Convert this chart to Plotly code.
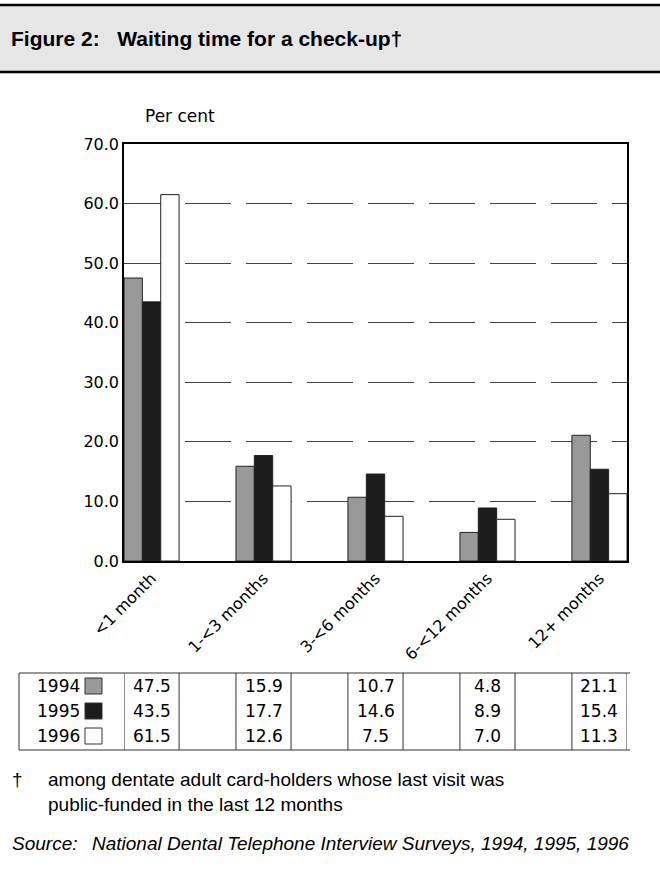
import plotly.graph_objects as go

# data
categories = ["<1 month", "1-<3 months", "3-<6 months", "6-<12 months", "12+ months"]
years = ["1994", "1995", "1996"]
values_1994 = [47.5, 15.9, 10.7, 4.8, 21.1]
values_1995 = [43.5, 17.7, 14.6, 8.9, 15.4]
values_1996 = [61.5, 12.6, 7.5, 7.0, 11.3]
y_ticks = [0, 10, 20, 30, 40, 50, 60, 70]

series = [values_1994, values_1995, values_1996]
fills = ["#999999", "#1c1c1c", "#ffffff"]

W, H = 660, 877
L, R, T, B = 124, 627, 144, 561   # plot area in pixels
HALF = 0.246                       # half width of a bar group, in category units

TICK_FONT = "DejaVu Sans"
TEXT_FONT = "Liberation Sans, Arial, sans-serif"


def px_x(px):
    """pixel x -> paper x"""
    return (px - L) / (R - L)


def px_y(py):
    """pixel y -> paper y"""
    return (B - py) / (B - T)


fig = go.Figure()
for year, vals, col in zip(years, series, fills):
    fig.add_trace(go.Bar(
        x=categories, y=vals, name=year,
        marker=dict(color=col, line=dict(color="#222222", width=1)),
    ))

shapes = []
annotations = []

# header band
shapes.append(dict(type="rect", xref="paper", yref="paper",
                   x0=px_x(-5), x1=px_x(665), y0=px_y(72), y1=px_y(5),
                   fillcolor="#e6e6e6", line=dict(color="#000000", width=2.5),
                   layer="below"))
annotations.append(dict(xref="paper", yref="paper", x=px_x(9), y=px_y(38),
                        xanchor="left", yanchor="middle", showarrow=False,
                        text="<b>Figure 2:   Waiting time for a check-up†</b>",
                        font=dict(family=TEXT_FONT, size=21, color="#000000")))

annotations.append(dict(xref="paper", yref="paper", x=px_x(143), y=px_y(116),
                        xanchor="left", yanchor="middle", showarrow=False,
                        text="Per cent",
                        font=dict(family=TICK_FONT, size=17, color="#000000")))

# data table under the chart
tab_top, tab_bot = 673, 750
row_y = [686, 711, 736]
line = dict(color="#333333", width=1)
shapes.append(dict(type="line", xref="paper", yref="paper", x0=px_x(19), x1=px_x(630),
                   y0=px_y(tab_top), y1=px_y(tab_top), line=line))
shapes.append(dict(type="line", xref="paper", yref="paper", x0=px_x(19), x1=px_x(630),
                   y0=px_y(tab_bot), y1=px_y(tab_bot), line=line))
shapes.append(dict(type="line", xref="paper", yref="paper", x0=px_x(19), x1=px_x(19),
                   y0=px_y(tab_top), y1=px_y(tab_bot), line=line))
for i in range(len(categories)):
    for xb in (i - HALF, i + HALF):
        shapes.append(dict(type="line", xref="x", yref="paper", x0=xb, x1=xb,
                           y0=px_y(tab_top), y1=px_y(tab_bot), line=line))

for r, (year, vals, col) in enumerate(zip(years, series, fills)):
    yc = row_y[r]
    annotations.append(dict(xref="paper", yref="paper", x=px_x(82), y=px_y(yc),
                            xanchor="right", yanchor="middle", showarrow=False,
                            text=year, font=dict(family=TICK_FONT, size=17, color="#000000")))
    shapes.append(dict(type="rect", xref="paper", yref="paper",
                       x0=px_x(85), x1=px_x(102), y0=px_y(yc + 8), y1=px_y(yc - 8),
                       fillcolor=col, line=dict(color="#333333", width=1)))
    for i, v in enumerate(vals):
        annotations.append(dict(xref="x", yref="paper", x=i, y=px_y(yc),
                                xanchor="center", yanchor="middle", showarrow=False,
                                text=f"{v:.1f}",
                                font=dict(family=TICK_FONT, size=17, color="#000000")))

# footnotes
foot = dict(family=TEXT_FONT, size=19, color="#000000")
annotations.append(dict(xref="paper", yref="paper", x=px_x(10), y=px_y(780),
                        xanchor="left", yanchor="middle", showarrow=False,
                        text="†", font=foot))
annotations.append(dict(xref="paper", yref="paper", x=px_x(46), y=px_y(792),
                        xanchor="left", yanchor="middle", showarrow=False, align="left",
                        text="among dentate adult card-holders whose last visit was<br>"
                             "public-funded in the last 12 months",
                        font=foot))
src = dict(family=TEXT_FONT, size=19, color="#000000")
annotations.append(dict(xref="paper", yref="paper", x=px_x(10), y=px_y(843),
                        xanchor="left", yanchor="middle", showarrow=False,
                        text="<i>Source:</i>", font=src))
annotations.append(dict(xref="paper", yref="paper", x=px_x(90), y=px_y(843),
                        xanchor="left", yanchor="middle", showarrow=False,
                        text="<i>National Dental Telephone Interview Surveys, 1994, 1995, 1996</i>",
                        font=src))

fig.update_layout(
    width=W, height=H,
    margin=dict(l=L, r=W - R, t=T, b=H - B, pad=0),
    paper_bgcolor="#ffffff", plot_bgcolor="#ffffff",
    barmode="group", bargap=1 - 2 * HALF, bargroupgap=0,
    showlegend=False,
    shapes=shapes, annotations=annotations,
    xaxis=dict(
        range=[-HALF, len(categories) - 1 + HALF],
        tickangle=-45, ticks="", showgrid=False,
        showline=True, linecolor="#000000", linewidth=1.5, mirror=True,
        tickfont=dict(family=TICK_FONT, size=16, color="#000000"),
    ),
    yaxis=dict(
        range=[0, 70], tickvals=y_ticks, tickformat=".1f",
        ticks="", showline=True, linecolor="#000000", linewidth=1.5, mirror=True,
        showgrid=True, gridcolor="#444444", gridwidth=1, griddash="46px,15px",
        zeroline=False,
        tickfont=dict(family=TICK_FONT, size=16, color="#000000"),
    ),
)

# the page body has an 8px margin by default; drop it so the figure sits at 0,0
fig.write_html("out.html", config={"displayModeBar": False},
               post_script="document.body.style.margin='0px';")
